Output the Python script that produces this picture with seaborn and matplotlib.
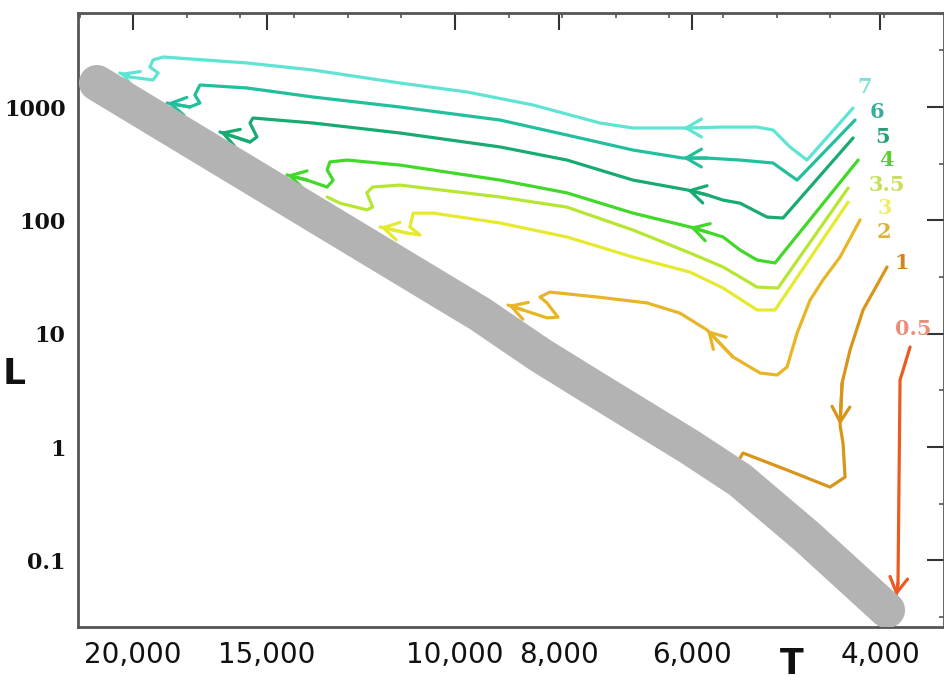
import numpy as np
import pandas as pd
import matplotlib
matplotlib.use("Agg")
import matplotlib.pyplot as plt
from matplotlib.ticker import FixedLocator, NullFormatter
import seaborn as sns

# pre-main-sequence tracks (T in K, L in solar units)
T_7 = [4242, 4685, 4860, 5040, 5217, 5613, 6028, 6120, 6816, 7318, 8453, 9743, 11260,
       13580, 15650, 18750, 19160, 19290, 18950, 19160, 20140, 20580]
L_7 = [982, 341, 445, 628, 667, 667, 654, 654, 654, 724, 1044, 1359, 1632,
       2126, 2451, 2768, 2605, 2259, 2000, 1735, 1844, 2000]

T_6 = [4224, 4786, 4891, 5040, 5412, 5811, 6120, 6816, 7857, 9076, 11260, 13580,
       15650, 17320, 17510, 17320, 17700, 18590]
L_6 = [769, 227, 262, 321, 341, 355, 355, 418, 567, 769, 1002, 1228,
       1475, 1567, 1279, 1087, 1002, 1087]

T_5 = [4242, 4933, 5106, 5412, 5613, 5811, 6067, 6816, 7857, 9076, 11260, 13580,
       15450, 15550, 15320, 15550, 16590]
L_5 = [534, 105, 107, 142, 151, 168, 186, 227, 341, 445, 591, 724,
       801, 724, 545, 492, 603]

T_4 = [4196, 5019, 5217, 5412, 5613, 5811, 6028, 6816, 7857, 9076, 11260, 12620,
       13090, 13170, 13000, 13170, 13750, 14360]
L_4 = [341, 42.1, 44.7, 54.8, 71.4, 79.0, 87.5, 116, 175, 227, 308, 341,
       328, 279, 227, 197, 227, 252]

T_35 = [4288, 4987, 5217, 5412, 5613, 6028, 6816, 7857, 9076, 11260, 11940, 12090,
        11940, 12090, 12810, 13170]
L_35 = [193, 25.3, 25.8, 31.7, 38.8, 51.6, 82.3, 131, 161, 205, 197, 175,
        131, 124, 142, 161]

T_3 = [4288, 5019, 5217, 5613, 6028, 6816, 7857, 9076, 10480, 10940, 11020, 10780,
       11090, 11750]
L_3 = [145, 16.2, 16.2, 25.3, 35.0, 47.5, 71.4, 94.9, 116, 116, 87.5, 74.3,
       77.4, 87.5]

T_2 = [4179, 4363, 4526, 4654, 4786, 4891, 4997, 5183, 5494, 5811, 6160, 6613,
       7366, 8149, 8326, 8202, 8010, 8202, 8637, 8920]
L_2 = [101, 47.5, 29.8, 19.8, 10.1, 5.08, 4.32, 4.50, 6.23, 10.8, 15.2, 18.7,
       21.1, 23.3, 21.1, 18.7, 14.0, 13.8, 16.2, 17.9]

T_1 = [3943, 4152, 4270, 4344, 4363, 4335, 4316, 4458, 4891, 5377, 5412]
L_1 = [38.8, 16.2, 7.18, 3.67, 1.56, 1.08, 0.543, 0.443, 0.627, 0.885, 0.800]

T_05 = [3752, 3834, 3851, 3867]
L_05 = [7.63, 3.90, 0.0630, 0.0484]

# zero age main sequence (thick grey band)
ms_T = [21620, 16840, 9475, 8325, 7475, 6030, 5412, 4685, 3943]
ms_L = [1632, 393, 14.9, 6.49, 3.46, 1.0, 0.511, 0.161, 0.0364]

masses = ["7", "6", "5", "4", "3.5", "3", "2", "1", "0.5"]
track_T = [T_7, T_6, T_5, T_4, T_35, T_3, T_2, T_1, T_05]
track_L = [L_7, L_6, L_5, L_4, L_35, L_3, L_2, L_1, L_05]

# vertices where an arrow head sits (-1 = end of track)
arrow_at = [[7, -1], [6, -1], [6, -1], [6, -1], [], [-1], [9, -1], [4], [-1]]

line_colors = ["#5fe3d3", "#22bf9c", "#17ab72", "#42d82a", "#b6e632",
               "#e6ea2e", "#e8b526", "#d9951a", "#ec5a22"]
label_colors = ["#7fe0d8", "#35ae9c", "#25a070", "#5ccf2c", "#c4e05a",
                "#eeee6a", "#e0b03c", "#d2841e", "#e88e7a"]
# label offsets (points) from the start of each track
label_offsets = [(8.6, 15), (15.8, 5.8), (20.9, 0.7), (20.2, 0), (28, 2.2),
                 (26.6, -4.3), (17.3, -8.6), (10.8, 2.9), (2.2, 13)]

x_major = [20000, 15000, 10000, 8000, 6000, 4000]
x_labels = ["20,000", "15,000", "10,000", "8,000", "6,000", "4,000"]
y_major = [0.1, 1, 10, 100, 1000]
y_labels = ["0.1", "1", "10", "100", "1000"]

frames = []
for m, ts, ls in zip(masses, track_T, track_L):
    frames.append(pd.DataFrame({"T": ts, "L": ls, "mass": m}))
df = pd.concat(frames, ignore_index=True)
ms = pd.DataFrame({"T": ms_T, "L": ms_L})

sns.set_style("white")
fig = plt.figure(figsize=(9.45, 6.84), dpi=100)
ax = fig.add_axes([0.0825, 0.0833, 0.9164, 0.8977])

sns.lineplot(data=df, x="T", y="L", hue="mass", hue_order=masses,
             palette=dict(zip(masses, line_colors)), sort=False, estimator=None,
             linewidth=2.3, solid_joinstyle="round", legend=False, ax=ax, zorder=2)

for m, ts, ls, idx, c in zip(masses, track_T, track_L, arrow_at, line_colors):
    for i in idx:
        i = i % len(ts)
        ax.annotate("", xy=(ts[i], ls[i]), xytext=(ts[i - 1], ls[i - 1]),
                    arrowprops=dict(arrowstyle="->,head_length=0.55,head_width=0.32",
                                    color=c, lw=2.3, shrinkA=0, shrinkB=0,
                                    mutation_scale=20),
                    zorder=2)

sns.lineplot(data=ms, x="T", y="L", sort=False, estimator=None, color="#b3b3b3",
             linewidth=26, solid_capstyle="round", solid_joinstyle="round",
             ax=ax, zorder=4)

for m, ts, ls, off, c in zip(masses, track_T, track_L, label_offsets, label_colors):
    ax.annotate(m, xy=(ts[0], ls[0]), xytext=off, textcoords="offset points",
                ha="center", va="center", color=c, fontsize=15, fontweight="bold",
                family="DejaVu Serif", annotation_clip=False, zorder=5)

ax.set_xscale("log")
ax.set_yscale("log")
ax.set_xlim(22524, 3488)
ax.set_ylim(0.02578, 6769)

ax.xaxis.set_major_locator(FixedLocator(x_major))
ax.set_xticklabels(x_labels)
ax.xaxis.set_minor_locator(FixedLocator([20000 * 2 ** (-k / 6) for k in range(-1, 15)]))
ax.xaxis.set_minor_formatter(NullFormatter())
ax.yaxis.set_major_locator(FixedLocator(y_major))
ax.set_yticklabels(y_labels)
ax.yaxis.set_minor_locator(FixedLocator([10 ** (k + 0.5) for k in range(-2, 4)]))
ax.yaxis.set_minor_formatter(NullFormatter())

ax.tick_params(which="major", direction="in", length=12, width=1.5, color="#333333",
               labelcolor="#111111", top=True, right=True)
ax.tick_params(which="minor", direction="in", length=3.5, width=1.2, color="#555555",
               top=True, right=True)
ax.tick_params(axis="x", which="major", pad=10)
ax.tick_params(axis="y", which="major", pad=9)
for lbl in ax.get_xticklabels():
    lbl.set_fontsize(20)
    lbl.set_family("DejaVu Sans")
for lbl in ax.get_yticklabels():
    lbl.set_fontsize(16)
    lbl.set_family("DejaVu Serif")
    lbl.set_fontweight("bold")

for sp in ax.spines.values():
    sp.set_color("#555555")
    sp.set_linewidth(2)

ax.set_xlabel("")
ax.set_ylabel("")
fig.text(3 / 945, 1 - 374 / 684, "L", ha="left", va="center", fontsize=26,
         fontweight="bold", color="#111111")
fig.text(792 / 945, 3 / 684, "T", ha="center", va="bottom", fontsize=25,
         fontweight="bold", color="#111111")

fig.savefig("out.png", dpi=100, facecolor="white")
